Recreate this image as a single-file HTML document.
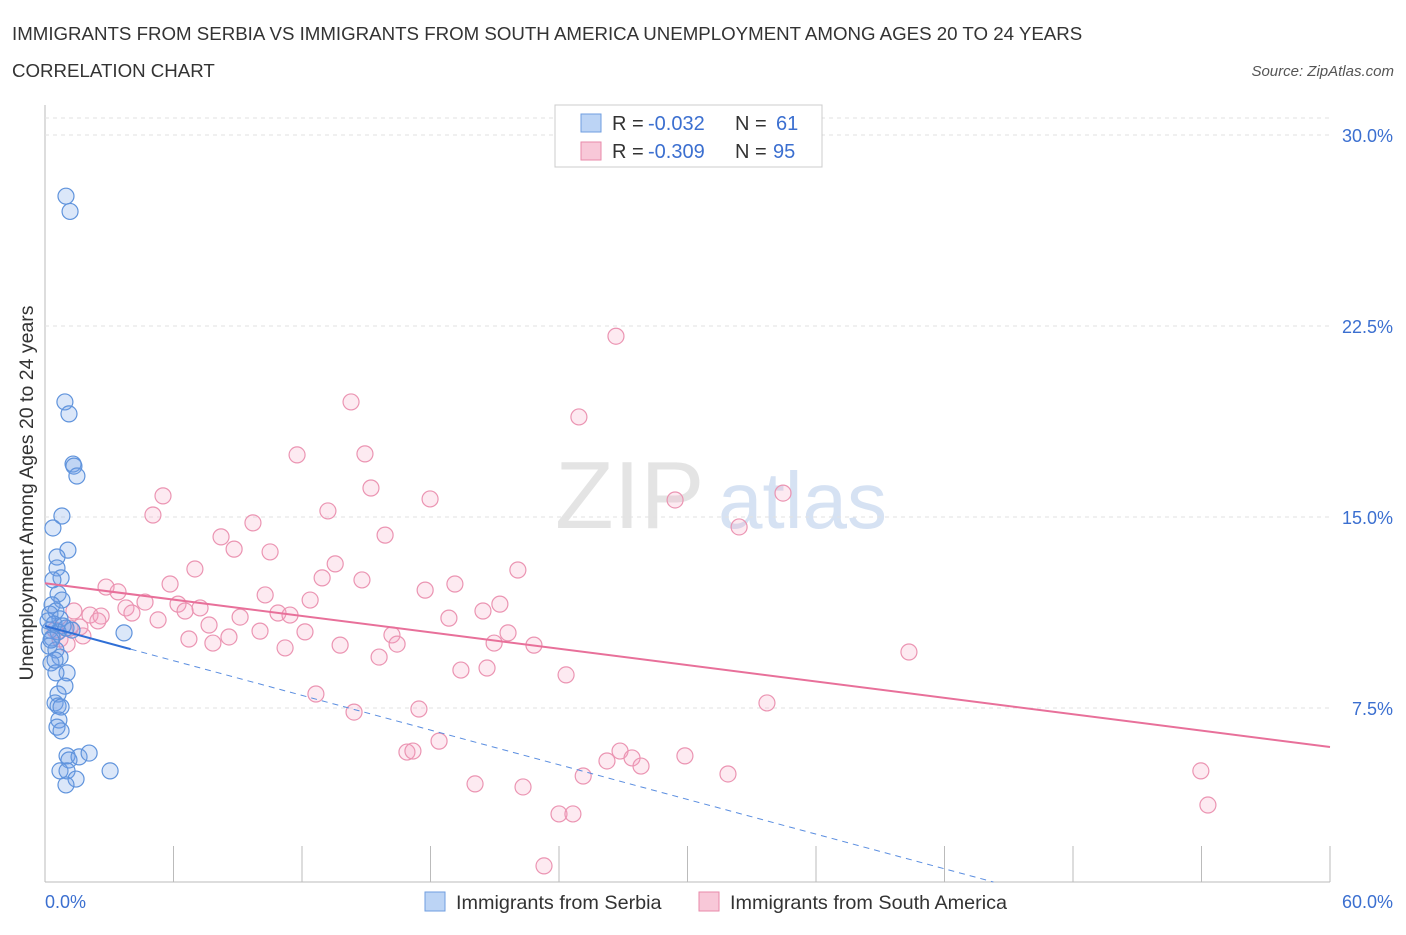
<!DOCTYPE html>
<html><head><meta charset="utf-8">
<style>
body{margin:0;background:#fff;font-family:"Liberation Sans",sans-serif;}
svg text{font-family:"Liberation Sans",sans-serif;}
</style></head>
<body>
<svg id="chart" width="1406" height="930" xmlns="http://www.w3.org/2000/svg">
<text x="12" y="40" font-size="18.7" fill="#333">IMMIGRANTS FROM SERBIA VS IMMIGRANTS FROM SOUTH AMERICA UNEMPLOYMENT AMONG AGES 20 TO 24 YEARS</text>
<text x="12" y="77" font-size="18.7" fill="#333">CORRELATION CHART</text>
<text x="1394" y="76" font-size="15" fill="#555" font-style="italic" text-anchor="end">Source: ZipAtlas.com</text>
<text x="555" y="528" font-size="96" fill="#e4e4e4" font-family="Liberation Serif">ZIP</text>
<text x="718" y="528" font-size="80" fill="#d6e2f3">atlas</text>
<text transform="translate(33,493) rotate(-90)" font-size="19.5" fill="#333" text-anchor="middle">Unemployment Among Ages 20 to 24 years</text>
<g id="grid"></g>
<g id="marks"></g>
<g>
<rect x="555" y="105" width="267" height="62" fill="#fff" stroke="#ccc"/>
<rect x="581" y="114" width="20" height="18" fill="#bcd4f5" stroke="#6f9ee0"/>
<text x="612" y="130" font-size="20" fill="#333">R =</text>
<text x="648" y="130" font-size="20" fill="#3b6fd0">-0.032</text>
<text x="735" y="130" font-size="20" fill="#333">N =</text>
<text x="776" y="130" font-size="20" fill="#3b6fd0">61</text>
<rect x="581" y="142" width="20" height="18" fill="#f8c8d8" stroke="#e88aaa"/>
<text x="612" y="158" font-size="20" fill="#333">R =</text>
<text x="648" y="158" font-size="20" fill="#3b6fd0">-0.309</text>
<text x="735" y="158" font-size="20" fill="#333">N =</text>
<text x="773" y="158" font-size="20" fill="#3b6fd0">95</text>
</g>
<g>
<rect x="425" y="892" width="20" height="19" fill="#bcd4f5" stroke="#6f9ee0"/>
<text x="456" y="909" font-size="19.8" fill="#333">Immigrants from Serbia</text>
<rect x="699" y="892" width="20" height="19" fill="#f8c8d8" stroke="#e88aaa"/>
<text x="730" y="909" font-size="19.8" fill="#333">Immigrants from South America</text>
</g>
</svg>
<script>
const yTicks=[7.5,15,22.5,30];
const yTickLabels=["7.5%","15.0%","22.5%","30.0%"];
const xTicks=[0,6,12,18,24,30,36,42,48,54,60];
const serbiaX=[0.98,1.17,0.93,1.12,1.31,1.35,1.49,0.79,0.37,1.07,0.56,0.56,0.75,0.37,0.61,0.79,0.33,0.51,0.23,0.70,0.42,0.84,0.23,0.61,0.98,1.26,0.33,0.19,0.51,0.70,0.28,3.69,1.03,0.51,0.93,0.61,0.47,0.61,0.75,0.65,0.56,0.75,1.03,1.12,1.59,2.06,0.70,1.03,1.45,0.98,3.04,0.14,0.28,0.47];
const serbiaY=[27.6,27.0,19.52,19.05,17.08,17.0,16.61,15.04,14.57,13.7,13.43,13.0,12.61,12.53,11.98,11.74,11.55,11.31,11.19,11.0,10.8,10.72,10.56,10.49,10.64,10.56,10.25,9.93,9.78,9.5,9.27,10.45,8.88,8.88,8.36,8.05,7.70,7.58,7.54,7.03,6.75,6.60,5.62,5.46,5.58,5.73,5.03,5.03,4.71,4.48,5.03,10.92,10.17,9.38];
const saX=[26.66,24.93,14.29,14.94,11.77,5.51,5.04,15.22,17.98,13.21,29.42,34.46,32.41,9.71,8.22,8.83,15.88,10.51,7.00,13.55,12.94,14.80,22.08,19.14,17.75,2.85,3.41,5.84,10.28,12.38,4.67,6.21,7.24,3.78,1.35,2.10,2.62,10.88,11.44,6.54,9.11,4.06,5.28,21.24,20.45,18.86,7.66,10.04,8.59,12.14,16.20,21.62,6.72,7.84,1.77,1.17,11.21,13.78,16.44,20.97,22.83,15.60,19.42,20.64,24.33,40.34,12.65,14.43,33.71,17.46,18.40,16.90,17.18,26.85,26.24,27.41,27.83,29.88,25.13,31.89,53.97,54.30,20.08,22.32,24.00,24.65,23.30,0.70,0.47,2.47,1.03,1.63];
const saY=[22.1,18.93,19.52,17.48,17.44,15.83,15.08,16.14,15.71,15.24,15.67,15.94,14.61,14.77,14.22,13.74,14.29,13.63,12.96,13.16,12.61,12.53,12.92,12.37,12.13,12.25,12.06,12.37,11.94,11.74,11.66,11.58,11.43,11.43,11.31,11.15,11.11,11.23,11.15,11.31,11.07,11.23,10.96,11.58,11.31,11.03,10.76,10.52,10.29,10.49,10.37,10.45,10.21,10.05,10.33,10.64,9.86,9.97,10.01,10.05,9.97,9.50,8.99,9.07,8.80,9.70,8.05,7.34,7.70,7.46,6.20,5.77,5.81,5.81,5.42,5.54,5.22,5.62,4.83,4.91,5.03,3.69,4.52,4.40,3.34,3.34,1.30,10.21,10.56,10.92,10.01,10.68];
const saTrend=[12.4,5.97];
const serbiaTrend=[10.72,-0.227];
const L=45,R=1330,T=105,B=882;
const xs=v=>L+v/60*(R-L);
const ys=v=>899-v/0.03927;
const NS="http://www.w3.org/2000/svg";
function mk(tag,attrs,parent){const e=document.createElementNS(NS,tag);for(const k in attrs)e.setAttribute(k,attrs[k]);parent.appendChild(e);return e;}
const grid=document.getElementById('grid'),marks=document.getElementById('marks');
let e=mk('line',{x1:L,x2:L,y1:T,y2:B,stroke:'#bbb'},grid);


e=mk('line',{x1:L,x2:R,y1:B,y2:B,stroke:'#bbb'},grid);


mk('line',{x1:L,x2:R,y1:118,y2:118,stroke:'#e2e2e2','stroke-dasharray':'4,4'},grid);
yTicks.forEach((t,i)=>{
  const g=mk('line',{x1:L,x2:R,y1:ys(t),y2:ys(t),stroke:'#e2e2e2','stroke-dasharray':'4,4'},grid);
  
  
  const tx=mk('text',{x:1393,y:ys(t)+7,'font-size':18,fill:'#3b6fd0','text-anchor':'end'},grid);
  tx.textContent=yTickLabels[i];
  
  
});
xTicks.forEach(t=>{
  const tk=mk('line',{x1:xs(t),x2:xs(t),y1:846,y2:B,stroke:'#bbb'},grid);
  
  
});
let t1=mk('text',{x:45,y:908,'font-size':18,fill:'#3b6fd0'},grid);t1.textContent='0.0%';


let t2=mk('text',{x:1393,y:908,'font-size':18,fill:'#3b6fd0','text-anchor':'end'},grid);t2.textContent='60.0%';


saX.forEach((x,i)=>{
  const c=mk('circle',{cx:xs(x),cy:ys(saY[i]),r:8,fill:'rgba(244,160,190,0.22)',stroke:'#eb94b2','stroke-width':1.2},marks);
  
  
});
serbiaX.forEach((x,i)=>{
  const c=mk('circle',{cx:xs(x),cy:ys(serbiaY[i]),r:8,fill:'rgba(110,160,230,0.25)',stroke:'#5f93dc','stroke-width':1.2},marks);
  
  
});
e=mk('line',{x1:xs(0),y1:ys(saTrend[0]),x2:xs(60),y2:ys(saTrend[1]),stroke:'#e8709a','stroke-width':2},marks);


const xEnd=(serbiaTrend[0]-(899-B)*0.03927)/(-serbiaTrend[1]);
e=mk('line',{x1:xs(4),y1:ys(serbiaTrend[0]+serbiaTrend[1]*4),x2:xs(xEnd),y2:ys(serbiaTrend[0]+serbiaTrend[1]*xEnd),stroke:'#5b8ee0','stroke-width':1,'stroke-dasharray':'6,5'},marks);


e=mk('line',{x1:xs(0),y1:ys(serbiaTrend[0]),x2:xs(4),y2:ys(serbiaTrend[0]+serbiaTrend[1]*4),stroke:'#2f6fd6','stroke-width':2},marks);


</script>
</body></html>
